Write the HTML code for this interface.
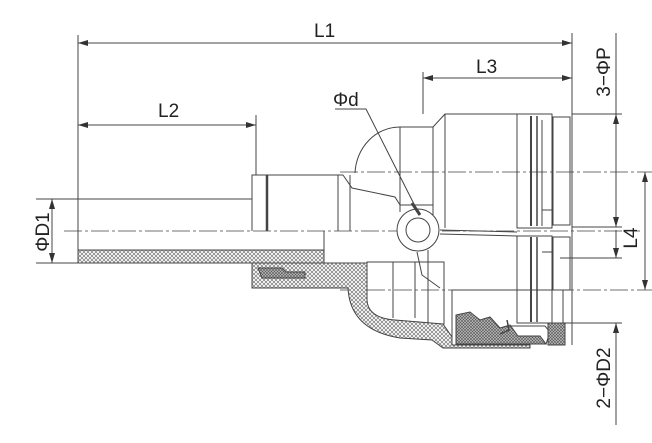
<!DOCTYPE html>
<html><head><meta charset="utf-8"><style>
html,body{margin:0;padding:0;background:#fff;}
svg{display:block;}
text{font-family:"Liberation Sans",sans-serif;fill:#222;}
</style></head><body>
<svg width="652" height="443" viewBox="0 0 652 443" xmlns="http://www.w3.org/2000/svg">
<defs>
<pattern id="h" width="4" height="4" patternUnits="userSpaceOnUse">
<rect width="4" height="4" fill="#fff"/>
<path d="M0 0L4 4M4 0L0 4" stroke="#777" stroke-width="0.7"/>
</pattern>
<pattern id="h2" width="3" height="3" patternUnits="userSpaceOnUse">
<rect width="3" height="3" fill="#bbb"/>
<path d="M0 0L3 3M3 0L0 3" stroke="#555" stroke-width="0.6"/>
</pattern>
<marker id="a" viewBox="0 0 10 6" refX="10" refY="3" markerWidth="10" markerHeight="6" orient="auto-start-reverse" markerUnits="userSpaceOnUse">
<path d="M0 0L10 3L0 6z" fill="#333"/>
</marker>
</defs>
<g stroke="#444" stroke-width="1" fill="none">
<line x1="78" y1="35" x2="78" y2="200"/>
<line x1="572" y1="33" x2="572" y2="345"/>
<line x1="423" y1="72" x2="423" y2="114"/>
<line x1="256" y1="115" x2="256" y2="175"/>
<line x1="78" y1="43" x2="572" y2="43" marker-start="url(#a)" marker-end="url(#a)"/>
<line x1="423" y1="78" x2="572" y2="78" marker-start="url(#a)" marker-end="url(#a)"/>
<line x1="78" y1="125" x2="256" y2="125" marker-start="url(#a)" marker-end="url(#a)"/>
<line x1="36" y1="199" x2="78" y2="199"/>
<line x1="36" y1="263" x2="78" y2="263"/>
<line x1="52" y1="199" x2="52" y2="263" marker-start="url(#a)" marker-end="url(#a)"/>
<line x1="572" y1="114" x2="622" y2="114"/>
<line x1="572" y1="227" x2="622" y2="227"/>
<line x1="616" y1="33" x2="616" y2="227" marker-end="url(#a)"/>
<line x1="616" y1="114" x2="616" y2="150" marker-start="url(#a)"/>
<line x1="560" y1="258" x2="622" y2="258"/>
<line x1="560" y1="323" x2="622" y2="323"/>
<line x1="616" y1="230" x2="616" y2="258" marker-end="url(#a)"/>
<line x1="616" y1="323" x2="616" y2="425" marker-start="url(#a)"/>
<line x1="645" y1="172" x2="645" y2="290" marker-start="url(#a)" marker-end="url(#a)"/>
<g stroke-dasharray="18,3,3,3" stroke-width="0.8">
<line x1="64" y1="231" x2="640" y2="231"/>
<line x1="340" y1="172" x2="655" y2="172"/>
<line x1="340" y1="290" x2="655" y2="290"/>
</g>
<line x1="78" y1="199" x2="252" y2="199"/>
<line x1="78" y1="199" x2="78" y2="263"/>
<rect x="78" y="250" width="246" height="13" fill="url(#h)"/>
<line x1="324" y1="231" x2="324" y2="250"/>
<polyline points="252,231 252,175 343,175"/>
<line x1="267" y1="175" x2="267" y2="231" stroke-width="2.5"/>
<line x1="338" y1="175" x2="338" y2="231"/>
<line x1="350" y1="175" x2="350" y2="231"/>
<path d="M343 175 L352 188 L395 197 L400 205 L400 212"/>
<path d="M355 173 A45 48 0 0 1 400 127 L433 127 L445 114 L517 114"/>
<line x1="400" y1="127" x2="400" y2="205"/>
<line x1="433" y1="127" x2="433" y2="225"/>
<line x1="445" y1="114" x2="445" y2="228"/>
<line x1="400" y1="205" x2="433" y2="205"/>
<line x1="517" y1="114" x2="517" y2="228"/>
<rect x="517" y="114" width="35" height="114"/>
<line x1="531" y1="116" x2="531" y2="226" stroke-width="2"/>
<line x1="537" y1="116" x2="537" y2="226" stroke-width="1.5"/>
<line x1="542" y1="120" x2="542" y2="226"/>
<rect x="553" y="117" width="17" height="108"/>
<line x1="542" y1="210" x2="553" y2="210"/>
<rect x="517" y="236" width="35" height="87"/>
<line x1="531" y1="237" x2="531" y2="322" stroke-width="2"/>
<line x1="537" y1="237" x2="537" y2="322" stroke-width="1.5"/>
<rect x="553" y="237" width="17" height="53"/>
<line x1="542" y1="252" x2="553" y2="252"/>
<line x1="440" y1="230" x2="517" y2="232"/>
<line x1="440" y1="234" x2="517" y2="236"/>
<rect x="367" y="262" width="77" height="62"/>
<line x1="393" y1="262" x2="393" y2="318"/>
<line x1="415" y1="262" x2="415" y2="318"/>
<line x1="428" y1="250" x2="428" y2="324"/>
<path d="M417 252 L422 275 L440 288"/>
<polyline points="452,337 452,290 563,290"/>
<line x1="563" y1="290" x2="563" y2="323"/>
<circle cx="418" cy="230" r="21" fill="#fff"/>
<circle cx="418" cy="230" r="12"/>
<path d="M335 109 L366 109 L418 212"/>
<path d="M412 203 L420 215" stroke-width="3"/>
<path d="M252 263 L367 263 L367 300 Q368 318 395 320 L443 324 L452 337 L452 345 L530 345 L530 348 L443 348 L432 340 L400 338 Q350 330 348 288 L252 288 Z" fill="url(#h)"/>
<path d="M258 268 L282 268 L286 272 L305 272 L305 278 L262 278 Z" fill="url(#h2)"/>
<path d="M456 315 L470 312 L480 320 L490 317 L500 328 L510 325 L518 336 L540 336 L546 344 L456 344 Z" fill="url(#h2)"/>
<path d="M507 320 L509 330 L500 334" stroke-width="1.5"/>
<path d="M510 326 L545 326 L550 332 L546 344"/>
<rect x="548" y="323" width="17" height="22" fill="url(#h2)"/>
</g>
<g font-size="19">
<text x="314" y="37">L1</text>
<text x="476" y="73">L3</text>
<text x="158" y="117">L2</text>
<text x="333" y="106">Φd</text>
<text transform="translate(49,232) rotate(-90)" text-anchor="middle">ΦD1</text>
<text transform="translate(610,72) rotate(-90)" text-anchor="middle">3−ΦP</text>
<text transform="translate(637,238) rotate(-90)" text-anchor="middle">L4</text>
<text transform="translate(610,378) rotate(-90)" text-anchor="middle">2−ΦD2</text>
</g>
</svg>
</body></html>
